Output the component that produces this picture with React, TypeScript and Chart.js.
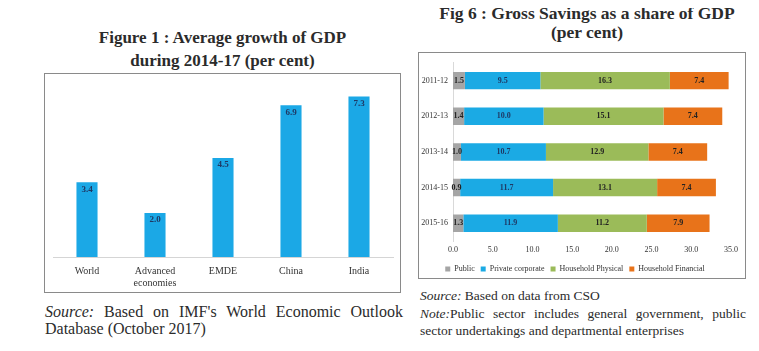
import React, { useEffect, useRef } from "react";
import { Chart, registerables } from "chart.js";

Chart.register(...registerables);

// ---------- Figure 1 data ----------
const gdpCategories: (string | string[])[] = ["World", ["Advanced", "economies"], "EMDE", "China", "India"];
const gdpValues: number[] = [3.4, 2.0, 4.5, 6.9, 7.3];

// ---------- Fig 6 data ----------
const savingsYears: string[] = ["2011-12", "2012-13", "2013-14", "2014-15", "2015-16"];
const publicSector: number[] = [1.5, 1.4, 1.0, 0.9, 1.3];
const privateCorporate: number[] = [9.5, 10.0, 10.7, 11.7, 11.9];
const householdPhysical: number[] = [16.3, 15.1, 12.9, 13.1, 11.2];
const householdFinancial: number[] = [7.4, 7.4, 7.4, 7.4, 7.9];
const savingsTicks: number[] = [0, 5, 10, 15, 20, 25, 30, 35];

const SERIF = "'Liberation Serif', 'DejaVu Serif', serif";

const barLabelPlugin = {
  id: "barLabels",
  afterDatasetsDraw(chart: any, _args: any, opts: any) {
    const ctx = chart.ctx;
    ctx.save();
    ctx.font = opts.font || `bold 9px ${SERIF}`;
    ctx.textAlign = "center";
    ctx.textBaseline = "middle";
    chart.data.datasets.forEach((ds: any, di: number) => {
      const meta = chart.getDatasetMeta(di);
      meta.data.forEach((el: any, i: number) => {
        const v = ds.data[i];
        const txt = Number(v).toFixed(1);
        ctx.fillStyle = (ds.labelColor as string) || "#1F3864";
        if (opts.mode === "top") {
          ctx.fillText(txt, el.x, el.y + 7);
        } else {
          const c = el.getCenterPoint();
          ctx.fillText(txt, c.x, c.y);
        }
      });
    });
    ctx.restore();
  },
};

function GdpChart() {
  const ref = useRef<HTMLCanvasElement | null>(null);
  useEffect(() => {
    if (!ref.current) return;
    const chart = new Chart(ref.current, {
      type: "bar",
      data: {
        labels: gdpCategories as any,
        datasets: [
          {
            data: gdpValues,
            backgroundColor: "#1BA8E6",
            barPercentage: 0.62,
            categoryPercentage: 0.5,
            labelColor: "#1F3864",
          } as any,
        ],
      },
      options: {
        animation: false,
        responsive: false,
        layout: { padding: { left: 8, right: 7, top: 7, bottom: 3 } },
        plugins: {
          legend: { display: false },
          tooltip: { enabled: false },
          barLabels: { mode: "top", font: `bold 9px ${SERIF}` },
        } as any,
        scales: {
          x: {
            grid: { display: false, drawTicks: false },
            border: { display: true, color: "#d5d5d5" },
            ticks: { color: "#333", font: { family: SERIF, size: 10 }, padding: 8 },
            afterFit: (scale: any) => {
              scale.height = 32;
            },
          },
          y: { display: false, min: 0, max: 8 },
        },
      },
      plugins: [barLabelPlugin],
    });
    return () => chart.destroy();
  }, []);
  return <canvas ref={ref} width={355} height={218} style={{ width: 355, height: 218, display: "block" }} />;
}

function SavingsChart() {
  const ref = useRef<HTMLCanvasElement | null>(null);
  useEffect(() => {
    if (!ref.current) return;
    const chart = new Chart(ref.current, {
      type: "bar",
      data: {
        labels: savingsYears,
        datasets: [
          { label: "Public", data: publicSector, backgroundColor: "#A5A5A5", labelColor: "#222" } as any,
          { label: "Private corporate", data: privateCorporate, backgroundColor: "#1BAAE4", labelColor: "#1F3864" } as any,
          { label: "Household Physical", data: householdPhysical, backgroundColor: "#9BBB59", labelColor: "#222" } as any,
          { label: "Household Financial", data: householdFinancial, backgroundColor: "#E8731A", labelColor: "#222" } as any,
        ],
      },
      options: {
        animation: false,
        responsive: false,
        indexAxis: "y",
        datasets: { bar: { barPercentage: 0.98, categoryPercentage: 0.5 } },
        layout: { padding: { left: 0, right: 14, top: 3, bottom: 0 } },
        plugins: {
          legend: {
            position: "bottom",
            labels: {
              boxWidth: 5,
              boxHeight: 5,
              padding: 6,
              color: "#333",
              font: { family: SERIF, size: 8 },
            },
          },
          tooltip: { enabled: false },
          barLabels: { mode: "center", font: `bold 8px ${SERIF}` },
        } as any,
        scales: {
          x: {
            stacked: true,
            min: 0,
            max: 35,
            afterBuildTicks: (scale: any) => {
              scale.ticks = savingsTicks.map((v) => ({ value: v }));
            },
            grid: { display: false, drawTicks: false },
            border: { display: false },
            ticks: {
              color: "#333",
              font: { family: SERIF, size: 8 },
              padding: 4,
              callback: (v: any) => Number(v).toFixed(1),
            },
            afterFit: (scale: any) => {
              scale.height = 18;
            },
          },
          y: {
            stacked: true,
            grid: { display: false, drawTicks: false },
            border: { display: true, color: "#d9d9d9" },
            ticks: { color: "#333", font: { family: SERIF, size: 8 }, padding: 5 },
            afterFit: (scale: any) => {
              scale.width = 34;
            },
          },
        },
      },
      plugins: [barLabelPlugin],
    });
    return () => chart.destroy();
  }, []);
  return (
    <canvas
      ref={ref}
      width={326}
      height={230}
      style={{ width: 326, height: 230, display: "block", position: "absolute", left: 0, top: 0 }}
    />
  );
}

export default function App() {
  const text: React.CSSProperties = { position: "absolute", fontFamily: SERIF, color: "#2b2b2b" };
  return (
    <div style={{ position: "relative", width: 759, height: 351, margin: -8, background: "#fff", overflow: "hidden" }}>
      {/* Left title */}
      <div style={{ ...text, left: 44, top: 26, width: 357, textAlign: "center", fontWeight: "bold", fontSize: 17, lineHeight: "23px" }}>
        Figure 1 : Average growth of GDP
        <br />
        during 2014-17 (per cent)
      </div>
      {/* Left box */}
      <div style={{ position: "absolute", left: 44, top: 73, width: 355, height: 218, border: "1px solid #8a8a8a" }}>
        <GdpChart />
      </div>
      {/* Left source */}
      <div style={{ ...text, left: 45, top: 303, width: 358, fontSize: 16, lineHeight: "17px" }}>
        <div style={{ textAlign: "justify", textAlignLast: "justify" }}>
          <i>Source:</i> Based on IMF's World Economic Outlook
        </div>
        <div>Database (October 2017)</div>
      </div>

      {/* Right title */}
      <div style={{ ...text, left: 418, top: 4, width: 338, textAlign: "center", fontWeight: "bold", fontSize: 17.5, lineHeight: "19px" }}>
        Fig 6 : Gross Savings as a share of GDP
        <br />
        (per cent)
      </div>
      {/* Right box */}
      <div style={{ position: "absolute", left: 418, top: 52, width: 326, height: 225, border: "1px solid #8a8a8a" }}>
        <SavingsChart />
      </div>
      {/* Right notes */}
      <div style={{ ...text, left: 420, top: 287, width: 326, fontSize: 13.5, lineHeight: "17.5px" }}>
        <div>
          <i>Source:</i> Based on data from CSO
        </div>
        <div style={{ textAlign: "justify", textAlignLast: "justify" }}>
          <i>Note:</i>Public sector includes general government, public
        </div>
        <div>sector undertakings and departmental enterprises</div>
      </div>
    </div>
  );
}
